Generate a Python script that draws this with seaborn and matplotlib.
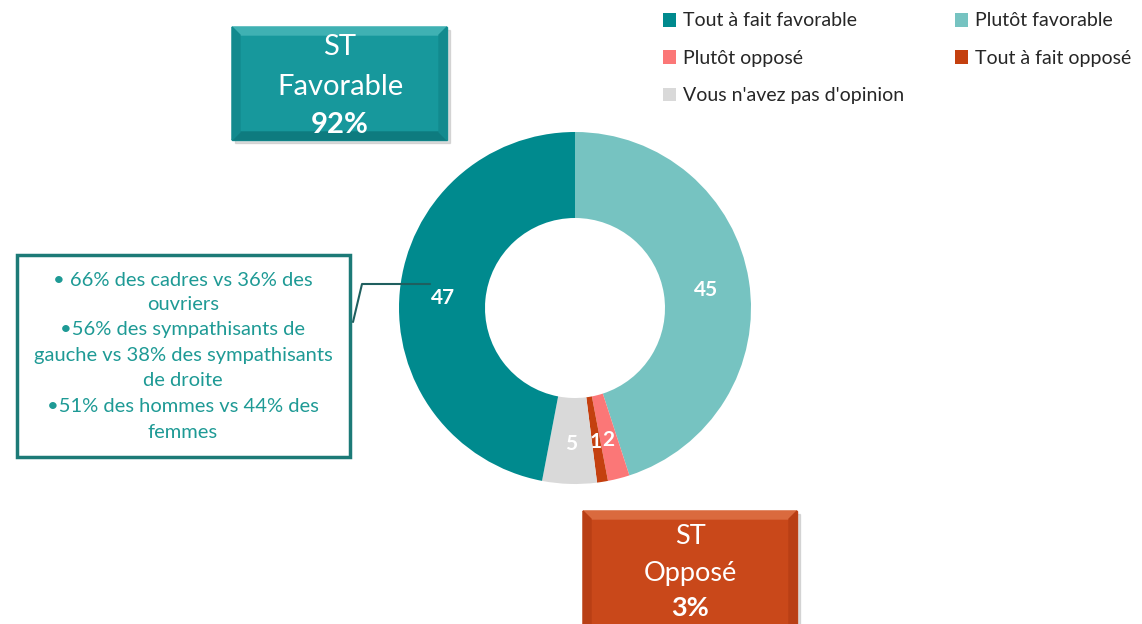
import matplotlib
matplotlib.use("Agg")
import matplotlib.pyplot as plt
from matplotlib.patches import Rectangle, Polygon, Patch
import seaborn as sns
import numpy as np

sns.set_theme(style="white")
plt.rcParams["font.family"] = ["Lato", "DejaVu Sans"]

# ── Data ────────────────────────────────────────────────────
categories = ["Plutôt favorable", "Plutôt opposé", "Tout à fait opposé",
              "Vous n'avez pas d'opinion", "Tout à fait favorable"]
values = [45, 2, 1, 5, 47]
colors = ["#76C3C1", "#FB7777", "#C4400F", "#D9D9D9", "#008A8E"]
legend_order = ["Tout à fait favorable", "Plutôt opposé", "Vous n'avez pas d'opinion",
                "Plutôt favorable", "Tout à fait opposé"]
fav_total = "92%"
opp_total = "3%"
note_lines = ["• 66% des cadres vs 36% des", "ouvriers",
              "•56% des sympathisants de", "gauche vs 38% des sympathisants",
              "de droite", "•51% des hommes vs 44% des", "femmes"]

W, H = 1142, 624
fig = plt.figure(figsize=(W / 100, H / 100), dpi=100)
ax = fig.add_axes([0, 0, 1, 1])

# ── Donut ───────────────────────────────────────────────────
cx, cy, R, w = 575, H - 308, 176, 86
wedges, _ = ax.pie(values, colors=colors, startangle=90, counterclock=False,
                   radius=R, center=(cx, cy),
                   wedgeprops=dict(width=w, edgecolor="none"))
for wd, v in zip(wedges, values):
    ang = np.deg2rad((wd.theta1 + wd.theta2) / 2)
    r = R - w / 2
    ax.text(cx + r * np.cos(ang), cy + r * np.sin(ang) - 3, str(v),
            ha="center", va="center", color="white", fontsize=15, fontweight="bold")


# ── Bevel boxes ─────────────────────────────────────────────
def bevel_box(x0, y0, x1, y1, face, light, dark, side, b=8):
    # coords in pixels from top
    X0, X1, Y0, Y1 = x0, x1, H - y1, H - y0
    ax.add_patch(Rectangle((X0 + 3, Y0 - 3), X1 - X0, Y1 - Y0, color="#BBBBBB",
                           alpha=0.5, zorder=3))
    ax.add_patch(Rectangle((X0, Y0), X1 - X0, Y1 - Y0, color=face, zorder=4))
    ax.add_patch(Polygon([(X0, Y1), (X1, Y1), (X1 - b, Y1 - b), (X0 + b, Y1 - b)],
                         color=light, zorder=5))
    ax.add_patch(Polygon([(X0, Y0), (X1, Y0), (X1 - b, Y0 + b), (X0 + b, Y0 + b)],
                         color=dark, zorder=5))
    ax.add_patch(Polygon([(X0, Y0), (X0, Y1), (X0 + b, Y1 - b), (X0 + b, Y0 + b)],
                         color=side, zorder=5))
    ax.add_patch(Polygon([(X1, Y0), (X1, Y1), (X1 - b, Y1 - b), (X1 - b, Y0 + b)],
                         color=side, zorder=5))


bevel_box(232, 27, 447, 140, "#17989C", "#3FB1B3", "#0E7B7F", "#128A8E")
ax.text(340, H - 47, "ST", ha="center", va="center", color="white", fontsize=21, zorder=6)
ax.text(340, H - 87, "Favorable", ha="center", va="center", color="white", fontsize=21, zorder=6)
ax.text(340, H - 125, fav_total, ha="center", va="center", color="white", fontsize=21,
        fontweight="bold", zorder=6)

bevel_box(583, 511, 797, 640, "#C9481A", "#DA6A3E", "#A8360F", "#B93F15")
ax.text(690, H - 537, "ST", ha="center", va="center", color="white", fontsize=19.5, zorder=6)
ax.text(690, H - 573, "Opposé", ha="center", va="center", color="white", fontsize=19.5, zorder=6)
ax.text(690, H - 608, opp_total, ha="center", va="center", color="white", fontsize=19.5,
        fontweight="bold", zorder=6)

# ── Note box ────────────────────────────────────────────────
ax.add_patch(Rectangle((17, H - 457), 333, 202, fill=False, edgecolor="#1C7A77",
                       linewidth=2.5, zorder=4))
line_y = [280, 304, 330, 355, 381, 407, 433]
for txt, y in zip(note_lines, line_y):
    ax.text(183, H - y, txt, ha="center", va="center", color="#1E9A95", fontsize=14.5, zorder=5)
ax.plot([353, 362, 430], [H - 322, H - 284, H - 284], color="#1F5F5F", linewidth=1.5, zorder=5)

# ── Legend ──────────────────────────────────────────────────
cmap = dict(zip(categories, colors))
handles = [Patch(facecolor=cmap[c], edgecolor="none", label=c) for c in legend_order]
ax.legend(handles=handles, ncol=2, loc="upper left", bbox_to_anchor=(645 / W, 1 + 5 / H),
          frameon=False, fontsize=14, handlelength=0.7, handleheight=0.7,
          handletextpad=0.35, columnspacing=2.6, labelspacing=1.05)

ax.set_xlim(0, W)
ax.set_ylim(0, H)
ax.set_aspect("equal")
ax.axis("off")

plt.savefig("out.png", dpi=100)
plt.close()
